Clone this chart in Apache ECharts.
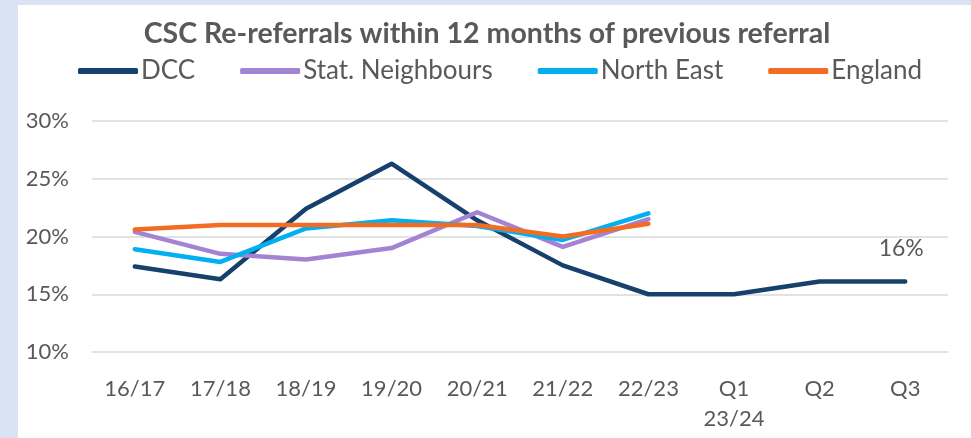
<!DOCTYPE html>
<html>
<head>
<meta charset="utf-8">
<script src="https://cdn.jsdelivr.net/npm/echarts@6/dist/echarts.min.js"></script>
<style>
html,body{margin:0;padding:0;background:#dae3f3;}
#chart{width:971px;height:438px;}
</style>
</head>
<body>
<div id="chart"></div>
<script>
const categories = ['16/17','17/18','18/19','19/20','20/21','21/22','22/23','Q1\n23/24','Q2','Q3'];
const dcc = [17.4, 16.3, 22.4, 26.3, 21.4, 17.5, 15.0, 15.0, 16.1, 16.1];
const statNeighbours = [20.4, 18.5, 18.0, 19.0, 22.1, 19.1, 21.5, null, null, null];
const northEast = [18.9, 17.8, 20.7, 21.4, 20.9, 19.7, 22.0, null, null, null];
const england = [20.6, 21.0, 21.0, 21.0, 21.0, 20.0, 21.1, null, null, null];
const yTicks = [10, 15, 20, 25, 30];
const lastLabel = '16%';

const FONT = 'Lato';
const TXT = '#595959';
const chart = echarts.init(document.getElementById('chart'));

function lineSeries(name, data, color, z) {
  return {
    name: name, type: 'line', data: data, symbol: 'none', showSymbol: false,
    lineStyle: { color: color, width: 4.5, cap: 'round', join: 'round' },
    itemStyle: { color: color }, z: z, animation: false
  };
}

const dccSeries = lineSeries('DCC', dcc.map((v, i) => i === dcc.length - 1 ? {
  value: v,
  label: { show: true, position: 'top', distance: 20, offset: [-4, 0], formatter: lastLabel,
    color: TXT, fontFamily: FONT, fontSize: 23 }
} : v), '#17416d', 2);
dccSeries.symbol = 'circle';
dccSeries.symbolSize = 2;
dccSeries.showSymbol = true;

chart.setOption({
  backgroundColor: '#dae3f3',
  animation: false,
  graphic: [{ type: 'rect', shape: { x: 18, y: 5, width: 953, height: 433 }, style: { fill: '#ffffff' }, z: -10 }],
  title: {
    text: 'CSC Re-referrals within 12 months of previous referral',
    left: 482, top: 14, textAlign: 'center',
    textStyle: { color: TXT, fontFamily: FONT, fontWeight: 'bold', fontSize: 28.5 }
  },
  legend: {
    left: 73, top: 53, itemWidth: 60, itemHeight: 6, itemGap: 45,
    icon: 'roundRect',
    textStyle: { color: TXT, fontFamily: FONT, fontSize: 26, padding: [0, 0, 0, -2] },
    data: ['DCC', 'Stat. Neighbours', 'North East', 'England']
  },
  grid: { left: 92, right: 23, top: 121, bottom: 86, containLabel: false },
  xAxis: {
    type: 'category', data: categories, boundaryGap: true,
    axisLine: { show: false }, axisTick: { show: false },
    axisLabel: { color: TXT, fontFamily: FONT, fontSize: 22, margin: 22, lineHeight: 30, interval: 0 }
  },
  yAxis: {
    type: 'value', min: yTicks[0], max: yTicks[yTicks.length - 1], interval: 5,
    axisLine: { show: false }, axisTick: { show: false },
    axisLabel: { color: TXT, fontFamily: FONT, fontSize: 22, margin: 23, formatter: v => v + '%' },
    splitLine: { lineStyle: { color: '#d9d9d9', width: 1.5 } }
  },
  series: [
    dccSeries,
    lineSeries('Stat. Neighbours', statNeighbours, '#a383d3', 3),
    lineSeries('North East', northEast, '#00b0f0', 4),
    lineSeries('England', england, '#f36c24', 5)
  ]
});
</script>
</body>
</html>
